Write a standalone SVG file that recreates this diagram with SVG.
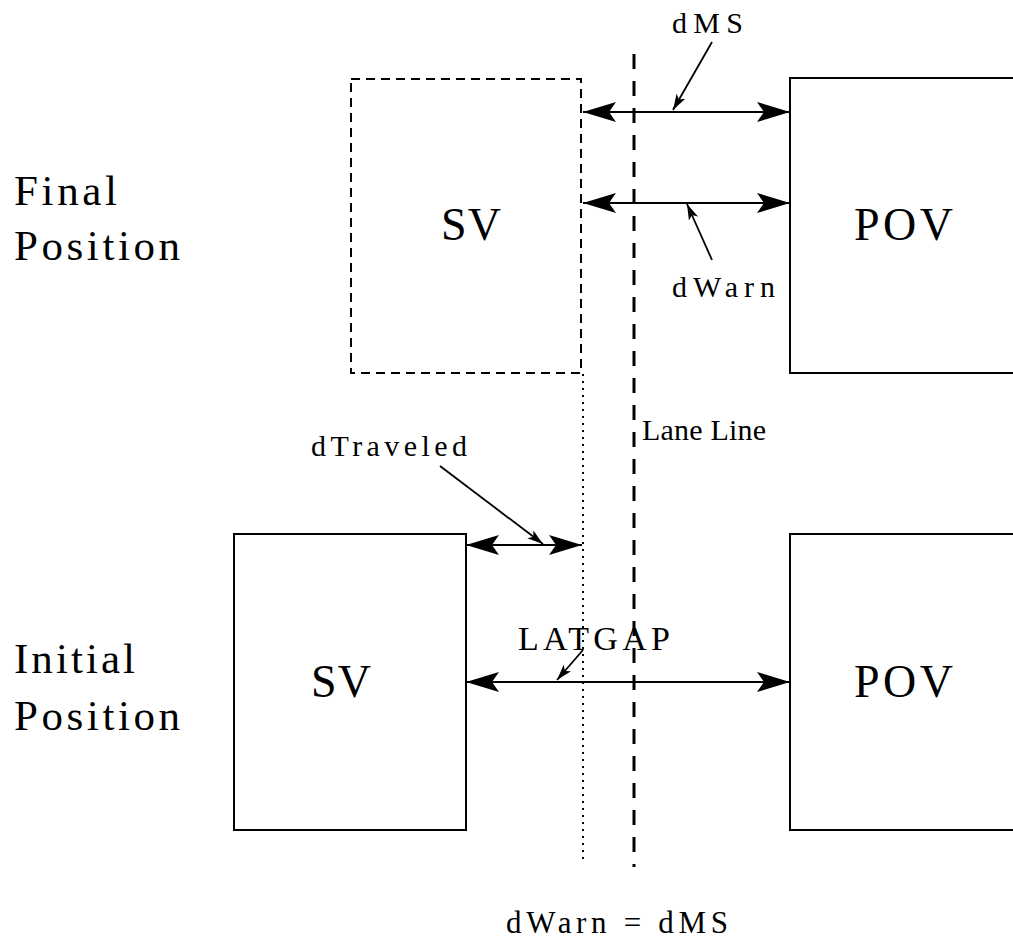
<svg xmlns="http://www.w3.org/2000/svg" width="1013" height="939" viewBox="0 0 1013 939">
<style>
.box{fill:none;stroke:#000;stroke-width:2}
.dbox{fill:none;stroke:#000;stroke-width:2;stroke-dasharray:9,6}
.lane{fill:none;stroke:#000;stroke-width:3;stroke-dasharray:15,12}
.dot{fill:none;stroke:#000;stroke-width:2;stroke-dasharray:2,5}
.dim{fill:none;stroke:#000;stroke-width:2;marker-start:url(#big);marker-end:url(#big)}
.lead{fill:none;stroke:#000;stroke-width:1.8;marker-end:url(#small)}
text{font-family:"Liberation Serif","Times New Roman",serif;fill:#000}
</style>
<defs>
<marker id="big" viewBox="0 0 33 20" refX="33" refY="10" markerWidth="33" markerHeight="20" markerUnits="userSpaceOnUse" orient="auto-start-reverse">
<path d="M0,0 L33,10 L0,20 L7,10 Z" fill="#000"/>
</marker>
<marker id="small" viewBox="0 0 16 10" refX="16" refY="5" markerWidth="16" markerHeight="10" markerUnits="userSpaceOnUse" orient="auto">
<path d="M0,0 L16,5 L0,10 L4,5 Z" fill="#000"/>
</marker>
</defs>
<rect width="1013" height="939" fill="#fff"/>
<g id="labels-side">
<text x="14" y="205" font-size="43" textLength="103">Final</text>
<text x="14" y="260" font-size="43" textLength="166">Position</text>
<text x="14" y="673" font-size="43" textLength="121">Initial</text>
<text x="14" y="730" font-size="43" textLength="166">Position</text>
</g>
<g id="sv-final">
<rect class="dbox" x="351" y="79" width="230" height="294"/>
<text x="441" y="240" font-size="46" textLength="60">SV</text>
</g>
<g id="pov-final">
<rect class="box" x="790" y="78" width="240" height="295"/>
<text x="854" y="240" font-size="46" textLength="99">POV</text>
</g>
<g id="sv-initial">
<rect class="box" x="234" y="534" width="232" height="296"/>
<text x="311" y="697" font-size="46" textLength="60">SV</text>
</g>
<g id="pov-initial">
<rect class="box" x="790" y="534" width="240" height="296"/>
<text x="854" y="697" font-size="46" textLength="99">POV</text>
</g>
<g id="lane-line">
<line class="lane" x1="634" y1="54" x2="634" y2="867"/>
<text x="642" y="440" font-size="30" textLength="124">Lane Line</text>
</g>
<g id="travel-line">
<line class="dot" x1="583" y1="374" x2="583" y2="862"/>
</g>
<g id="connectors">
<line class="dim" x1="583" y1="112" x2="790" y2="112"/>
<line class="dim" x1="583" y1="203" x2="790" y2="203"/>
<line class="dim" x1="466" y1="545" x2="582" y2="545"/>
<line class="dim" x1="466" y1="682" x2="790" y2="682"/>
<line class="lead" x1="712" y1="42" x2="673" y2="110"/>
<line class="lead" x1="712" y1="260" x2="687" y2="204"/>
<line class="lead" x1="440" y1="466" x2="543" y2="544"/>
<line class="lead" x1="583" y1="650" x2="557" y2="680"/>
</g>
<g id="dim-labels">
<text x="672" y="33" font-size="30" textLength="71">dMS</text>
<text x="672" y="297" font-size="30" textLength="103">dWarn</text>
<text x="311" y="456" font-size="30" textLength="156">dTraveled</text>
<text x="518" y="650" font-size="34" textLength="152">LATGAP</text>
<text x="506" y="933" font-size="31" textLength="222">dWarn = dMS</text>
</g>
</svg>
